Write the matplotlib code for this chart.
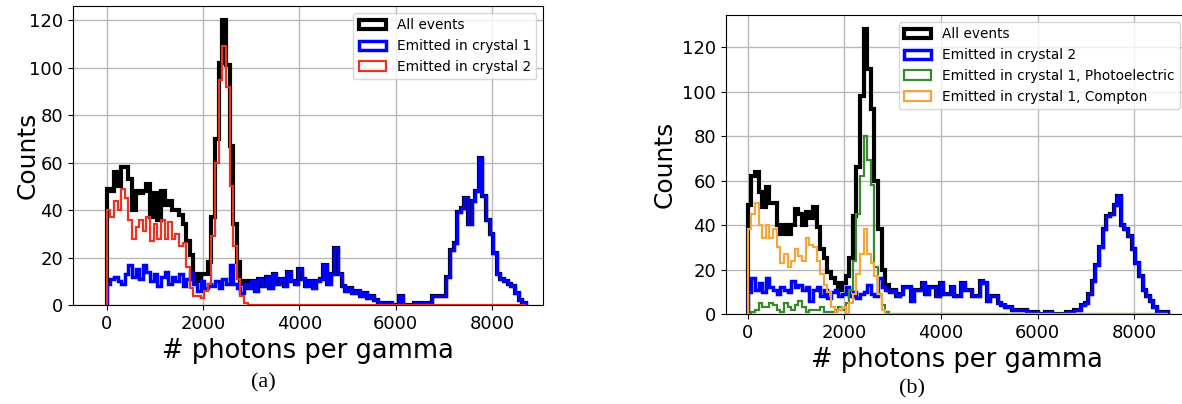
import numpy as np
import matplotlib.pyplot as plt

# bin edges (photons per gamma), 75 wide, 0..8700
edges = np.arange(0, 8701, 75)
centers = edges[:-1] + 37.5

# ---- panel (a) ----
a_crystal1 = [9, 11, 12, 10, 9, 13, 17, 12, 15, 11,
              17, 14, 10, 13, 8, 12, 14, 9, 12, 10,
              13, 8, 11, 14, 9, 6, 10, 7, 9, 8,
              10, 7, 11, 9, 17, 9, 7, 5, 9, 7,
              10, 6, 11, 8, 12, 7, 13, 9, 11, 8,
              14, 10, 9, 15, 11, 8, 10, 7, 10, 11,
              17, 9, 13, 24, 13, 8, 6, 7, 5, 6,
              4, 5, 3, 4, 2, 1, 1, 0, 1, 0,
              0, 4, 0, 0, 0, 1, 1, 1, 1, 1,
              4, 4, 4, 4, 12, 23, 26, 39, 41, 45,
              34, 44, 48, 62, 46, 36, 30, 22, 13, 11,
              10, 9, 8, 5, 2, 1]
a_crystal2 = [40, 37, 44, 40, 49, 45, 36, 28, 33, 36,
              31, 37, 27, 34, 28, 36, 28, 35, 28, 30,
              25, 26, 16, 7, 4, 4, 3, 6, 9, 29,
              60, 95, 109, 92, 50, 25, 11, 4, 1] + [0] * 77
a_all = [49, 48, 56, 50, 58, 58, 53, 40, 48, 47,
         48, 51, 37, 47, 36, 48, 42, 44, 40, 40,
         38, 34, 27, 21, 13, 10, 13, 13, 18, 37,
         70, 102, 120, 101, 67, 34, 18, 9, 10, 7,
         10, 6, 11, 8, 12, 7, 13, 9, 11, 8,
         14, 10, 9, 15, 11, 8, 10, 7, 10, 11,
         17, 9, 13, 24, 13, 8, 6, 7, 5, 6,
         4, 5, 3, 4, 2, 1, 1, 0, 1, 0,
         0, 4, 0, 0, 0, 1, 1, 1, 1, 1,
         4, 4, 4, 4, 12, 23, 26, 39, 41, 45,
         34, 44, 48, 62, 46, 36, 30, 22, 13, 11,
         10, 9, 8, 5, 2, 1]

# ---- panel (b) ----
b_crystal2 = [10, 16, 11, 14, 10, 16, 12, 11, 9, 12,
              11, 10, 15, 12, 13, 11, 12, 6, 11, 12,
              8, 11, 7, 10, 11, 8, 9, 12, 8, 10,
              7, 9, 10, 13, 9, 8, 16, 12, 11, 10,
              11, 8, 9, 12, 12, 6, 11, 11, 14, 9,
              12, 12, 8, 14, 9, 9, 12, 8, 8, 14,
              11, 11, 8, 8, 15, 14, 6, 8, 8, 5,
              4, 3, 3, 2, 2, 2, 2, 1, 0, 1,
              0, 0, 1, 1, 0, 0, 0, 0, 1, 1,
              2, 2, 4, 5, 9, 15, 22, 30, 38, 44,
              45, 49, 53, 40, 38, 35, 29, 23, 17, 11,
              8, 6, 3, 1, 1, 1]
b_photo = [0, 1, 2, 5, 3, 3, 5, 4, 2, 1,
           5, 3, 2, 4, 6, 3, 1, 2, 2, 2,
           3, 1, 1, 1, 2, 3, 2, 5, 11, 24,
           45, 62, 80, 69, 58, 21, 9, 4, 1, 0] + [0] * 76
b_compton = [38, 45, 50, 40, 34, 40, 34, 38, 30, 23,
             27, 21, 24, 29, 26, 24, 34, 31, 30, 24,
             18, 13, 10, 3, 1, 2, 3, 0, 5, 9,
             18, 27, 38, 27, 23, 17, 9, 2, 0, 0] + [0] * 76
b_all = [49, 62, 64, 55, 48, 57, 50, 50, 40, 36,
         40, 36, 40, 47, 45, 40, 46, 43, 48, 39,
         29, 25, 19, 16, 14, 11, 14, 17, 25, 44,
         66, 98, 128, 110, 92, 60, 38, 20, 13, 11,
         11, 8, 9, 12, 12, 6, 11, 11, 14, 9,
         12, 12, 8, 14, 9, 9, 12, 8, 8, 14,
         11, 11, 8, 8, 15, 14, 6, 8, 8, 5,
         4, 3, 3, 2, 2, 2, 2, 1, 0, 1,
         0, 0, 1, 1, 0, 0, 0, 0, 1, 1,
         2, 2, 4, 5, 9, 15, 22, 30, 38, 44,
         45, 49, 53, 40, 38, 35, 29, 23, 17, 11,
         8, 6, 3, 1, 1, 1]

W, H = 1182, 404
fig = plt.figure(figsize=(W / 100, H / 100), dpi=100)


def px_axes(left, top, right, bottom):
    return fig.add_axes([left / W, 1 - bottom / H, (right - left) / W, (bottom - top) / H])


def style(ax, xlim):
    ax.set_xlim(*xlim)
    ax.set_axisbelow(True)
    ax.grid(True, color='#b8b8b8', lw=1.0)
    ax.tick_params(labelsize=13)
    ax.set_xlabel('# photons per gamma', fontsize=18.5)
    ax.set_ylabel('Counts', fontsize=18)
    ax.set_xticks([0, 2000, 4000, 6000, 8000])


ax1 = px_axes(73, 6, 543, 305)
ax1.hist(centers, bins=edges, weights=a_all, histtype='step', color='black', lw=3, label='All events')
ax1.hist(centers, bins=edges, weights=a_crystal1, histtype='step', color='blue', lw=2.5, label='Emitted in crystal 1')
ax1.hist(centers, bins=edges, weights=a_crystal2, histtype='step', color='#ea3323', lw=1.6, label='Emitted in crystal 2')
style(ax1, (-700, 9058))
ax1.yaxis.set_label_coords(-0.071, 0.5)
ax1.legend(loc='upper right', fontsize=9.8)

ax2 = px_axes(726, 15, 1187, 314)
ax2.hist(centers, bins=edges, weights=b_all, histtype='step', color='black', lw=3, label='All events')
ax2.hist(centers, bins=edges, weights=b_crystal2, histtype='step', color='blue', lw=2.5, label='Emitted in crystal 2')
ax2.hist(centers, bins=edges, weights=b_photo, histtype='step', color='#358a2b', lw=1.6, label='Emitted in crystal 1, Photoelectric')
ax2.hist(centers, bins=edges, weights=b_compton, histtype='step', color='#f4a63a', lw=1.6, label='Emitted in crystal 1, Compton')
style(ax2, (-449, 9095))
ax2.legend(loc='upper right', fontsize=9.8)

fig.text(263 / W, 1 - 383 / H, '(a)', ha='center', va='center', fontsize=16, family='Liberation Serif')
fig.text(912 / W, 1 - 389 / H, '(b)', ha='center', va='center', fontsize=16, family='Liberation Serif')

fig.savefig('out.png', dpi=100)
